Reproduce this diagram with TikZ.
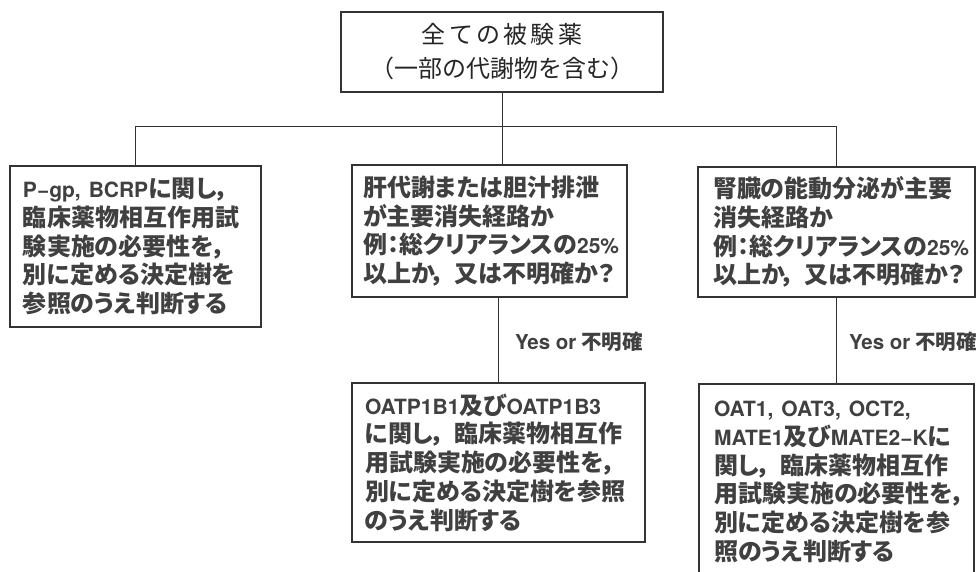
\documentclass[tikz,border=0pt]{standalone}
\usepackage{fontspec}
\newfontfamily\jpfix{Noto Sans CJK JP}
\newfontfamily\jpprop{Noto Sans CJK JP}[RawFeature=+palt]
\newfontfamily\latfont{TeX Gyre Heros}
\newcommand\ksp{\kern3.3pt}
\newcommand\cmm{，\kern9pt}
\newcommand\latn[1]{{\latfont\bfseries\fontsize{21}{28.75}\selectfont #1}}
\tikzset{
  boxst/.style={draw=black!80, line width=1.3pt, inner sep=0pt, align=left,
    font=\jpprop\bfseries\fontsize{24}{28.75}\selectfont, text=black!75},
  topst/.style={draw=black!80, line width=1.3pt, inner sep=0pt, align=center,
    font=\jpfix\fontsize{24}{34}\selectfont, text=black!85},
  conn/.style={draw=black!80, line width=1pt},
  lbl/.style={font=\jpprop\bfseries\fontsize{20.5}{24}\selectfont, inner sep=0pt,
    anchor=west, text=black!75}
}
\begin{document}
\begin{tikzpicture}[x=1pt,y=-1pt]
\useasboundingbox (0,0) rectangle (979,572);
\node[topst, minimum width=322pt, minimum height=80pt] (top) at (502,52)
  {全\ksp て\ksp の\ksp 被\ksp 験\ksp 薬\\（一部の代謝物を含む）};
\node[boxst, minimum width=251pt, minimum height=161pt, text width=225pt] (left) at (135.5,246.5)
  {\latn{P−gp,~BCRP}に関し，\\臨床薬物相互作用試\\験実施の必要性を，\\別に定める決定樹を\\参照のうえ判断する};
\node[boxst, minimum width=275pt, minimum height=132pt, text width=253pt] (mid) at (489.5,231)
  {肝代謝または胆汁排泄\\が主要消失経路か\\例：総クリアランスの\latn{25\%}\\以上か\cmm 又は不明確か？};
\node[boxst, minimum width=277pt, minimum height=130pt, text width=247pt] (right) at (836.5,232)
  {腎臓の能動分泌が主要\\消失経路か\\例：総クリアランスの\latn{25\%}\\以上か\cmm 又は不明確か？};
\node[boxst, minimum width=293pt, minimum height=159pt, text width=267pt] (mbot) at (498.5,462.5)
  {\latn{OATP1B1}及び\latn{OATP1B3}\\に関し\cmm 臨床薬物相互作\\用試験実施の必要性を，\\別に定める決定樹を参照\\のうえ判断する};
\node[boxst, minimum width=275pt, minimum height=196pt, text width=245pt] (rbot) at (836.5,482)
  {\latn{OAT1,~OAT3,~OCT2,}\\\latn{MATE1}及び\latn{MATE2−K}に\\関し\cmm 臨床薬物相互作\\用試験実施の必要性を，\\別に定める決定樹を参\\照のうえ判断する};
\coordinate (hj) at (502,127);
\draw[conn] (top.south) -- (hj);
\draw[conn] (left.north) -- (left.north |- hj) -- (right.north |- hj) -- (right.north);
\draw[conn] (hj) -- (hj |- mid.north);
\draw[conn] (mbot.north |- mid.south) -- node[lbl, xshift=16pt, yshift=-2pt] {{\latfont\bfseries\fontsize{20.5}{24}\selectfont Yes~or}~不明確} (mbot.north);
\draw[conn] (right.south) -- node[lbl, xshift=12pt, yshift=-1pt] {{\latfont\bfseries\fontsize{20.5}{24}\selectfont Yes~or}~不明確} (rbot.north);
\end{tikzpicture}
\end{document}
